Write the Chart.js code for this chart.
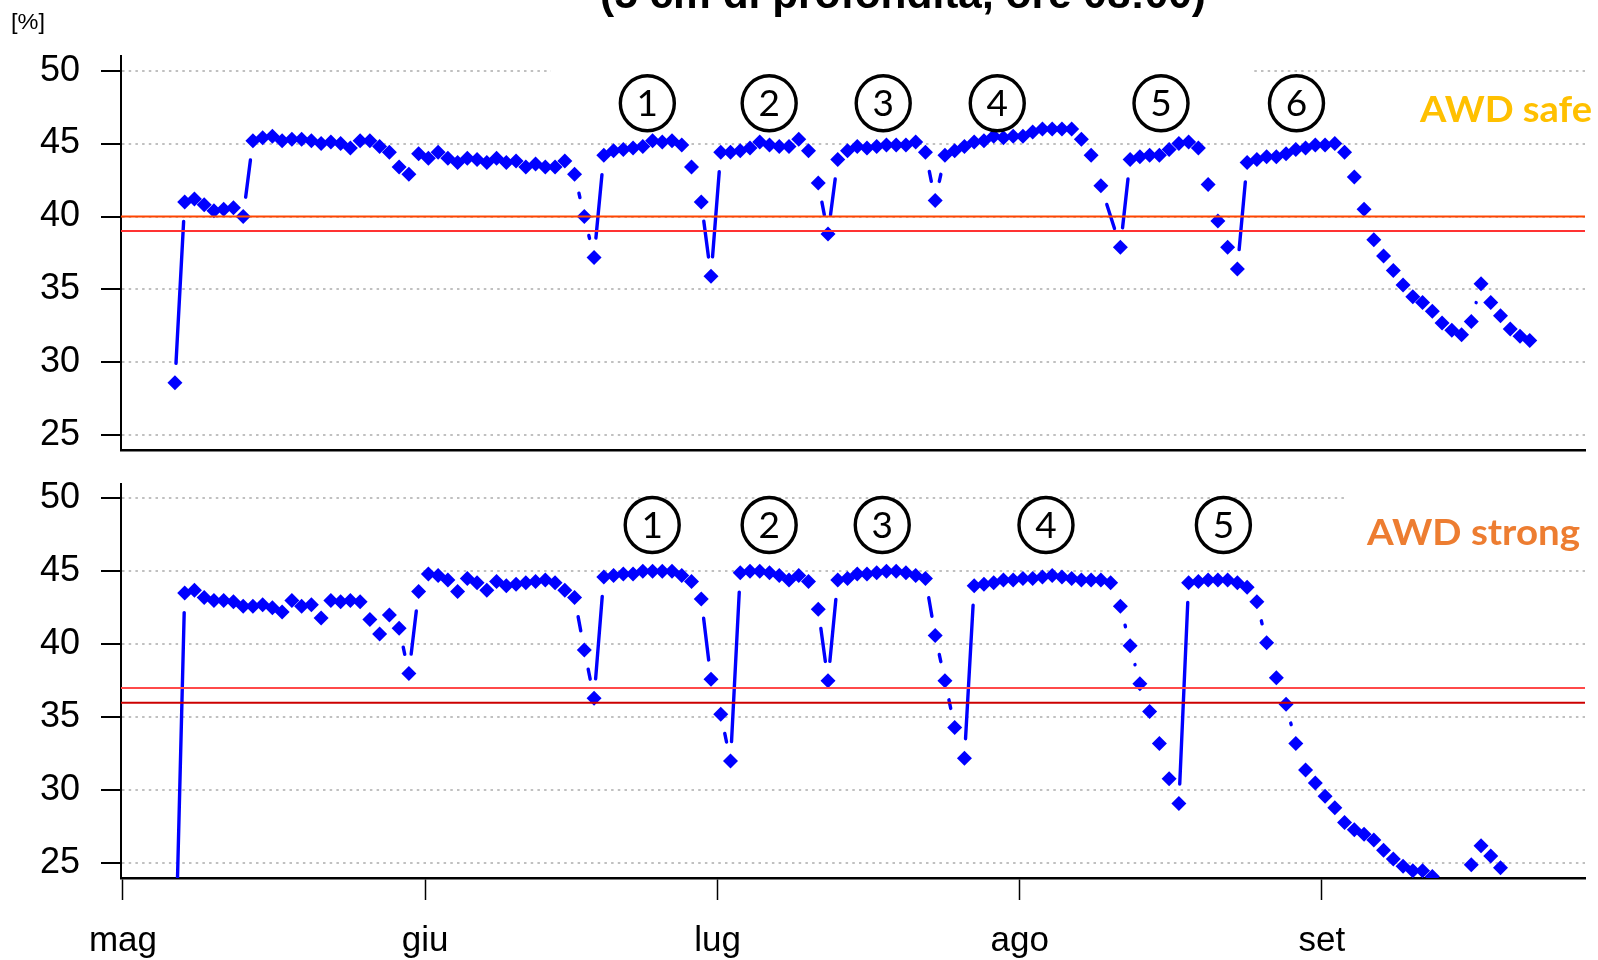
<!DOCTYPE html>
<html>
<head>
<meta charset="utf-8">
<script src="https://cdn.jsdelivr.net/npm/chart.js@4/dist/chart.umd.min.js"></script>
<style>
html,body{margin:0;padding:0;background:#fff;width:1598px;height:960px;overflow:hidden;}
canvas{position:absolute;left:0;}
#cTop{top:0;}
#cBot{top:440px;}
</style>
</head>
<body>
<canvas id="cTop" width="1598" height="490"></canvas>
<canvas id="cBot" width="1598" height="520"></canvas>
<script>
// ---------------- DATA ----------------
// day offsets counted from 1 May (0 = 1 May); readings taken at 08:00
const READ_HOUR = 8;
const monthTickDays = [0, 31, 61, 92, 123];
const monthLabels = ['mag', 'giu', 'lug', 'ago', 'set'];
const yTickValues = [25, 30, 35, 40, 45, 50];

const daysTop = [5,6,7,8,9,10,11,12,13,14,15,16,17,18,19,20,21,22,23,24,25,26,27,28,29,30,
  31,32,33,34,35,36,37,38,39,40,41,42,43,44,45,46,47,48,49,50,51,52,53,54,55,56,57,58,59,60,
  61,62,63,64,65,66,67,68,69,70,71,72,73,74,75,76,77,78,79,80,81,82,83,84,85,86,87,88,89,90,
  91,92,93,94,95,96,97,98,99,100,102,103,104,105,106,107,108,109,110,111,112,113,114,115,116,
  117,118,119,120,121,122,123,124,125,126,127,128,129,130,131,132,133,134,135,136,137,138,139,
  140,141,142,143,144];
const valuesTop = [
  28.6, 41.0, 41.2, 40.8, 40.4, 40.5, 40.6, 40.0,
  45.2, 45.4, 45.5, 45.2, 45.3, 45.3, 45.2, 45.0, 45.1, 45.0,
  44.7, 45.2, 45.2, 44.8, 44.4, 43.4, 42.9, 44.3, 44.0, 44.4,
  44.0, 43.7, 44.0, 43.9, 43.7, 44.0, 43.7, 43.8, 43.4, 43.6,
  43.4, 43.4, 43.8, 42.9, 40.0, 37.2, 44.2, 44.5, 44.6, 44.7,
  44.8, 45.2, 45.1, 45.2, 44.9, 43.4, 41.0, 35.9, 44.4, 44.4,
  44.5, 44.7, 45.1, 44.9, 44.8, 44.8, 45.3, 44.5, 42.3, 38.8,
  43.9, 44.5, 44.8, 44.7, 44.8, 44.9, 44.9, 44.9, 45.1, 44.4,
  41.1, 44.2, 44.5, 44.8, 45.1, 45.2, 45.5, 45.4, 45.5, 45.5,
  45.8, 46.0, 46.0, 46.0, 46.0, 45.3, 44.2, 42.1,
  37.9, 43.9, 44.1, 44.2, 44.2, 44.6, 45.0, 45.1, 44.7, 42.2,
  39.7, 37.9, 36.4, 43.7, 43.9, 44.1, 44.1, 44.3, 44.6, 44.7,
  44.9, 44.9, 45.0, 44.4, 42.7, 40.5, 38.4, 37.3, 36.3, 35.3,
  34.5, 34.1, 33.5, 32.7, 32.2, 31.9, 32.8, 35.4, 34.1, 33.2,
  32.3, 31.8, 31.5];

const daysBottom = [5,6,7,8,9,10,11,12,13,14,15,16,17,18,19,20,21,22,23,24,25,26,27,28,29,30,
  31,32,33,34,35,36,37,38,39,40,41,42,43,44,45,46,47,48,49,50,51,52,53,54,55,56,57,58,59,60,
  61,62,63,64,65,66,67,68,69,70,71,72,73,74,75,76,77,78,79,80,81,82,83,84,85,86,87,88,89,90,
  91,92,93,94,95,96,97,98,99,100,101,102,103,104,105,106,107,108,109,110,111,112,113,114,115,
  116,117,118,119,120,121,122,123,124,125,126,127,128,129,130,131,132,133,134,135,136,137,138,
  139,140,141];
const valuesBottom = [
  17.0, 43.5, 43.7, 43.2, 43.0, 43.0, 42.9, 42.6, 42.6, 42.7,
  42.5, 42.2, 43.0, 42.6, 42.7, 41.8, 43.0, 42.9, 43.0, 42.9,
  41.7, 40.7, 42.0, 41.1, 38.0, 43.6, 44.8, 44.7, 44.4, 43.6,
  44.5, 44.2, 43.7, 44.3, 44.0, 44.1, 44.2, 44.3, 44.4, 44.2,
  43.7, 43.2, 39.6, 36.3, 44.6, 44.7, 44.8, 44.8, 45.0, 45.0,
  45.0, 45.0, 44.7, 44.3, 43.1, 37.6, 35.2, 32.0, 44.9, 45.0,
  45.0, 44.9, 44.7, 44.4, 44.7, 44.3, 42.4, 37.5, 44.4, 44.5,
  44.8, 44.8, 44.9, 45.0, 45.0, 44.9, 44.7, 44.5, 40.6, 37.5,
  34.3, 32.2, 44.0, 44.1, 44.2, 44.4, 44.4, 44.5, 44.5, 44.6,
  44.7, 44.6, 44.5, 44.4, 44.4, 44.4, 44.2, 42.6, 39.9, 37.3,
  35.4, 33.2, 30.8, 29.1, 44.2, 44.3, 44.4, 44.4, 44.4, 44.2,
  43.9, 42.9, 40.1, 37.7, 35.9, 33.2, 31.4, 30.5, 29.6, 28.8,
  27.8, 27.3, 27.0, 26.6, 25.9, 25.3, 24.8, 24.5, 24.5, 24.1,
  null, null, null, 24.9, 26.2, 25.5, 24.7];

const thresholdsTop = [40, 39];
const thresholdColorsTop = ['#FF4500', '#FF3333'];
const thresholdsBottom = [37, 36];
const thresholdColorsBottom = ['#FF4A4A', '#CC0000'];

const eventDaysTop = [53.8, 66.3, 78.0, 89.7, 106.5, 120.4];
const eventLabelsTop = ['1', '2', '3', '4', '5', '6'];
const eventLevelTop = 47.76;
const eventDaysBottom = [54.3, 66.3, 77.9, 94.7, 112.9];
const eventLabelsBottom = ['1', '2', '3', '4', '5'];
const eventLevelBottom = 48.16;

const titleText = '(5 cm di profondità, ore 08:00)';
const unitText = '[%]';
const labelTop = 'AWD safe';
const labelBottom = 'AWD strong';

// ---------------- HELPERS ----------------
const xOf = d => d + READ_HOUR / 24;
const TICK_FONT = {family: '"Liberation Sans", Arial, sans-serif', size: 36, lineHeight: 1};
const X_FONT = {family: '"Liberation Sans", Arial, sans-serif', size: 35};

function drawFitted(ctx, text, left, baseline, width, font, color) {
  ctx.save();
  ctx.font = font; ctx.fillStyle = color;
  ctx.textAlign = 'left'; ctx.textBaseline = 'alphabetic';
  const w = ctx.measureText(text).width;
  ctx.translate(left, baseline);
  ctx.scale(width / w, 1);
  ctx.fillText(text, 0, 0);
  ctx.restore();
}

const panelDecor = {
  id: 'panelDecor',
  beforeDatasetsDraw(chart, args, o) {
    const {ctx, chartArea: a} = chart;
    const xs = chart.scales.x, ys = chart.scales.y;
    // gaps in the dotted grid line (hidden behind pasted labels)
    ctx.save();
    ctx.fillStyle = '#ffffff';
    (o.gridGaps || []).forEach(g => {
      const x1 = xs.getPixelForValue(g.from);
      const x2 = Math.min(a.right + 2, xs.getPixelForValue(g.to));
      const yy = ys.getPixelForValue(g.level);
      ctx.fillRect(x1, yy - 4, x2 - x1, 8);
    });
    ctx.restore();
    // R "type = b" connecting segments with gaps around points
    const px = o.days.map(d => xs.getPixelForValue(xOf(d)));
    const py = o.values.map(v => v == null ? null : ys.getPixelForValue(v));
    ctx.save();
    ctx.beginPath(); ctx.rect(a.left, a.top, a.right - a.left, a.bottom - a.top); ctx.clip();
    ctx.strokeStyle = '#0000FF'; ctx.lineWidth = 3.4; ctx.lineCap = 'round';
    const gap = o.gap;
    for (let i = 0; i < px.length - 1; i++) {
      if (py[i] == null || py[i + 1] == null) continue;
      const dx = px[i + 1] - px[i], dy = py[i + 1] - py[i];
      const L = Math.hypot(dx, dy);
      if (L <= 2 * gap) continue;
      const ux = dx / L, uy = dy / L;
      ctx.beginPath();
      ctx.moveTo(px[i] + ux * gap, py[i] + uy * gap);
      ctx.lineTo(px[i + 1] - ux * gap, py[i + 1] - uy * gap);
      ctx.stroke();
    }
    ctx.restore();
  },
  afterDatasetsDraw(chart, args, o) {
    const {ctx, chartArea: a} = chart;
    const ys = chart.scales.y, xs = chart.scales.x;
    ctx.save();
    o.thresholds.forEach((t, i) => {
      const yy = ys.getPixelForValue(t);
      ctx.strokeStyle = o.thresholdColors[i];
      ctx.lineWidth = 2;
      ctx.beginPath(); ctx.moveTo(a.left, yy); ctx.lineTo(a.right, yy); ctx.stroke();
    });
    // circled event numbers
    const cy = ys.getPixelForValue(o.eventLevel);
    o.eventDays.forEach((d, i) => {
      const cx = xs.getPixelForValue(d);
      ctx.strokeStyle = '#000'; ctx.lineWidth = 3.4;
      ctx.beginPath(); ctx.ellipse(cx, cy, 27, 27.5, 0, 0, Math.PI * 2); ctx.stroke();
      ctx.fillStyle = '#000';
      ctx.font = '37px Lato, "Open Sans", sans-serif';
      ctx.textAlign = 'center'; ctx.textBaseline = 'middle';
      ctx.fillText(o.eventLabels[i], cx, cy + 1);
    });
    ctx.restore();
  },
  afterDraw(chart, args, o) {
    const ctx = chart.ctx;
    (o.texts || []).forEach(t => {
      drawFitted(ctx, t.text, t.left, t.baseline, t.width, t.font, t.color);
    });
  }
};

function makeChart(id, days, values, extra) {
  const pts = days.map((d, i) => ({x: xOf(d), y: values[i]}));
  return new Chart(document.getElementById(id), {
    type: 'scatter',
    data: {datasets: [{
      data: pts,
      pointStyle: 'rectRot',
      pointRadius: 7.5,
      pointHoverRadius: 7.5,
      pointBackgroundColor: '#0000FF',
      pointBorderWidth: 0,
      showLine: false,
      clip: 0
    }]},
    plugins: [panelDecor],
    options: {
      responsive: false,
      animation: false,
      devicePixelRatio: 1,
      events: [],
      layout: {padding: {left: 0, right: 13, top: extra.padTop, bottom: 0}},
      plugins: {
        legend: {display: false},
        tooltip: {enabled: false},
        panelDecor: extra.decor
      },
      scales: {
        x: {
          type: 'linear', min: -0.2, max: 150,
          afterBuildTicks: s => { s.ticks = monthTickDays.map(v => ({value: v})); },
          afterFit: s => { s.height = extra.xHeight; },
          ticks: {
            display: extra.showX, autoSkip: false, maxRotation: 0, color: '#000',
            font: X_FONT, padding: 20,
            callback: v => monthLabels[monthTickDays.indexOf(v)]
          },
          grid: {display: extra.showX, drawOnChartArea: false, drawTicks: true,
                 tickLength: 22, tickColor: '#000', tickWidth: 1.5},
          border: {display: true, color: '#000', width: 2.5}
        },
        y: {
          type: 'linear', min: 24, max: 51,
          afterBuildTicks: s => { s.ticks = yTickValues.map(v => ({value: v})); },
          afterFit: s => { s.width = 121; },
          ticks: {color: '#000', font: TICK_FONT, padding: 21},
          grid: {display: true, drawOnChartArea: true, drawTicks: true, color: '#c0c0c0',
                 lineWidth: 2, tickLength: 20, tickColor: '#000', tickWidth: 2},
          border: {display: true, color: '#000', width: 2, dash: [2.5, 4.2]}
        }
      }
    }
  });
}

makeChart('cTop', daysTop, valuesTop, {
  padTop: 56, xHeight: 40, showX: false,
  decor: {
    days: daysTop, values: valuesTop, gap: 19.5,
    thresholds: thresholdsTop, thresholdColors: thresholdColorsTop,
    eventDays: eventDaysTop, eventLabels: eventLabelsTop, eventLevel: eventLevelTop,
    gridGaps: [{from: 43.9, to: 116.0, level: 50}],
    texts: [
      {text: titleText, left: 600, baseline: 8, width: 606, font: 'bold 42px "Liberation Sans", Arial, sans-serif', color: '#000'},
      {text: unitText, left: 11, baseline: 29, width: 34, font: '22px "Liberation Sans", Arial, sans-serif', color: '#000'},
      {text: labelTop, left: 1420, baseline: 121.5, width: 172, font: 'bold 36px Lato, "Open Sans", sans-serif', color: '#FFC000'}
    ]
  }
});

makeChart('cBot', daysBottom, valuesBottom, {
  padTop: 43.5, xHeight: 82, showX: true,
  decor: {
    days: daysBottom, values: valuesBottom, gap: 19.5,
    thresholds: thresholdsBottom, thresholdColors: thresholdColorsBottom,
    eventDays: eventDaysBottom, eventLabels: eventLabelsBottom, eventLevel: eventLevelBottom,
    gridGaps: [{from: 125.6, to: 151, level: 50}],
    texts: [
      {text: labelBottom, left: 1367, baseline: 105, width: 213, font: 'bold 36px Lato, "Open Sans", sans-serif', color: '#ED7D31'}
    ]
  }
});
</script>
</body>
</html>
